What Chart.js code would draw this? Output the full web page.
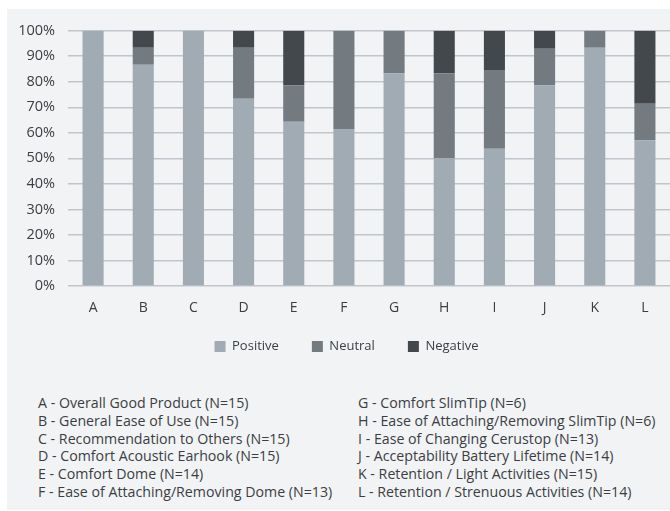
<!DOCTYPE html>
<html>
<head>
<meta charset="utf-8">
<script src="https://cdn.jsdelivr.net/npm/chart.js@4/dist/chart.umd.min.js"></script>
<style>
    body { margin: 0; background: #fff; width: 670px; height: 511px; overflow: hidden; position: relative; }
    #panel { position: absolute; left: 7px; top: 9px; width: 663px; height: 501px; background: #f2f3f5; }
    #chartBox { position: absolute; left: 0; top: 0; width: 663px; height: 377px; }
    .notes { position: absolute; top: 385px; font-family: "Open Sans", sans-serif; font-size: 14.2px; line-height: 17.8px; color: #3a3e43; white-space: nowrap; }
    #notesLeft { left: 31px; }
    #notesRight { left: 351px; }
</style>
</head>
<body>
<div id="panel">
    <div id="chartBox"><canvas id="barChart"></canvas></div>
    <div class="notes" id="notesLeft"></div>
    <div class="notes" id="notesRight"></div>
</div>
<script>
// Dữ liệu (% theo nhóm)
const categories = ['A', 'B', 'C', 'D', 'E', 'F', 'G', 'H', 'I', 'J', 'K', 'L'];
const positive = [100, 86.7, 100, 73.3, 64.3, 61.5, 83.3, 50, 53.8, 78.6, 93.3, 57.1];
const neutral = [0, 6.6, 0, 20, 14.3, 38.5, 16.7, 33.3, 30.8, 14.3, 6.7, 14.3];
const negative = [0, 6.7, 0, 6.7, 21.4, 0, 0, 16.7, 15.4, 7.1, 0, 28.6];
const yTicks = [0, 10, 20, 30, 40, 50, 60, 70, 80, 90, 100];
const notesLeft = [
    'A - Overall Good Product (N=15)',
    'B - General Ease of Use (N=15)',
    'C - Recommendation to Others (N=15)',
    'D - Comfort Acoustic Earhook (N=15)',
    'E - Comfort Dome (N=14)',
    'F - Ease of Attaching/Removing Dome (N=13)'
];
const notesRight = [
    'G - Comfort SlimTip (N=6)',
    'H - Ease of Attaching/Removing SlimTip (N=6)',
    'I - Ease of Changing Cerustop (N=13)',
    'J - Acceptability Battery Lifetime (N=14)',
    'K - Retention / Light Activities (N=15)',
    'L - Retention / Strenuous Activities (N=14)'
];

// Chú thích bên dưới
document.getElementById('notesLeft').innerHTML = notesLeft.join('<br>');
document.getElementById('notesRight').innerHTML = notesRight.join('<br>');

// Kéo legend lên gần trục x (padding lớn chỉ để giãn ngang các mục)
const legendNudge = {
    id: 'legendNudge',
    afterLayout: function (chart) {
        const lg = chart.legend;
        lg.top -= 23;
        lg.bottom -= 23;
        lg.left += 8;
        lg.right += 8;
    }
};

const textColor = '#3a3e43';
Chart.defaults.font.family = '"Open Sans", sans-serif';
Chart.defaults.font.size = 14;
Chart.defaults.color = textColor;

new Chart(document.getElementById('barChart'), {
    type: 'bar',
    data: {
        labels: categories,
        datasets: [
            {label: 'Positive', data: positive, backgroundColor: '#a1abb3'},
            {label: 'Neutral', data: neutral, backgroundColor: '#737a80'},
            {label: 'Negative', data: negative, backgroundColor: '#43484c'}
        ]
    },
    plugins: [legendNudge],
    options: {
        responsive: true,
        maintainAspectRatio: false,
        animation: false,
        datasets: {
            bar: {categoryPercentage: 1, barPercentage: 0.42}
        },
        layout: {padding: {top: 18, right: 0, bottom: 0, left: 0}},
        plugins: {
            legend: {
                position: 'bottom',
                labels: {boxWidth: 11, boxHeight: 11, padding: 33, color: textColor, font: {size: 13}}
            },
            tooltip: {enabled: false}
        },
        scales: {
            x: {
                stacked: true,
                grid: {display: false, drawTicks: false},
                border: {display: false},
                ticks: {padding: 13.6}
            },
            y: {
                stacked: true,
                min: 0,
                max: 100,
                afterBuildTicks: function (axis) {
                    axis.ticks = yTicks.map(v => ({value: v}));
                },
                ticks: {
                    padding: 13,
                    font: {size: 14.5},
                    callback: function (value) { return value + '%'; }
                },
                grid: {color: '#bfc5cb', lineWidth: 1.5, drawTicks: false},
                border: {display: false},
                afterFit: function (axis) { axis.width = 61; }
            }
        }
    }
});
</script>
</body>
</html>
